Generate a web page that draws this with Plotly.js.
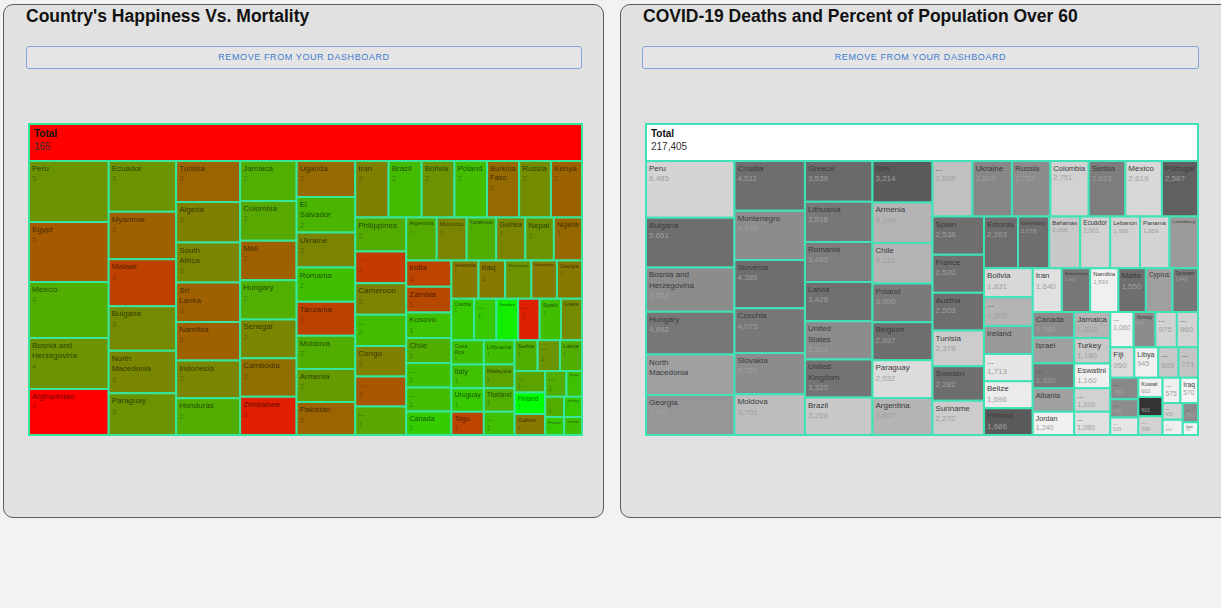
<!DOCTYPE html>
<html>
<head>
<meta charset="utf-8">
<script src="https://cdn.plot.ly/plotly-3.0.1.min.js"></script>
<style>
  html, body { margin:0; padding:0; width:1221px; height:608px; overflow:hidden; background:#f2f2f2;
    font-family:"Liberation Sans", Arial, sans-serif; }
  .card { position:absolute; top:4px; height:512px; background:#e1e1e1; border:1px solid #5c5c5c; border-radius:10px; }
  .title { position:absolute; top:8px; font-weight:bold; font-size:17.5px; line-height:17px; color:#111; white-space:nowrap; }
  .btn { position:absolute; top:46px; height:23px; box-sizing:border-box; border:1px solid #7ea6da; border-radius:3px;
    background:#e5e5e5; color:#3d7bd0; font-size:9px; letter-spacing:0.6px; text-align:center; line-height:21px; }
  #plot { position:absolute; left:0; top:0; width:1221px; height:608px; }
</style>
</head>
<body>
<div class="card" style="left:3px;width:599px;"></div>
<div class="card" style="left:620px;width:620px;"></div>
<div class="title" style="left:26px;">Country's Happiness Vs. Mortality</div>
<div class="title" style="left:643px;">COVID-19 Deaths and Percent of Population Over 60</div>
<div class="btn" style="left:26px;width:556px;">REMOVE FROM YOUR DASHBOARD</div>
<div class="btn" style="left:642px;width:557px;">REMOVE FROM YOUR DASHBOARD</div>
<div id="plot"></div>
<script>
// ---------- Chart 1: Country's Happiness Vs. Mortality ----------
const happinessTotal = 165;
const countries1 = ["Peru","Egypt","Mexico","Bosnia and Herzegovina","Afghanistan",
  "Ecuador","Myanmar","Malawi","Bulgaria","North Macedonia","Paraguay",
  "Tunisia","Algeria","South Africa","Sri Lanka","Namibia","Indonesia","Honduras",
  "Jamaica","Colombia","Mali","Hungary","Senegal","Cambodia","Zimbabwe",
  "Uganda","El Salvador","Ukraine","Romania","Tanzania","Moldova","Armenia","Pakistan",
  "Iran","Brazil","Bolivia","Poland","Burkina Faso","Russia","Kenya","Philippines",
  "...","Cameroon","...","Congo","...","...",
  "Argentina","Morocco","Kazakhstan","Guinea","Nepal","Nigeria","India","Zambia",
  "Kosovo","Chile","...","...","Canada",
  "Venezuela","Iraq","Montenegro","Mozambique","Georgia","Czechia","...",
  "Sweden","...","Spain","Greece",
  "Costa Rica","Italy","Uruguay","Togo","Lithuania","Malaysia","Thailand",
  "...","Serbia","...","Latvia","...","Finland","Gabon",
  "...","Estonia","...","Germany","France","Vietnam"];
const mortality1 = [4.84,4.76,4.45,4.05,3.65,
  3.4,3.2,3.15,3.0,2.85,2.8,
  2.62,2.58,2.55,2.52,2.45,2.4,2.35,
  2.25,2.24,2.22,2.2,2.18,2.17,2.15,
  2.1,2.08,2.04,2.0,1.98,1.95,1.93,1.92,
  1.88,1.86,1.85,1.83,1.81,1.79,1.75,1.72,
  1.62,1.6,1.58,1.55,1.52,1.45,
  1.3,1.28,1.26,1.24,1.22,1.2,1.18,1.16,
  1.15,1.12,1.1,1.08,1.06,
  1.04,1.02,1.0,0.98,0.96,0.94,0.92,
  0.9,0.89,0.88,0.87,
  0.78,0.77,0.76,0.75,0.74,0.73,0.72,
  0.71,0.7,0.68,0.67,0.66,0.65,0.64,
  0.55,0.4,0.38,0.36,0.34,0.32];
const happiness1 = [5.58,4.37,6.12,5.58,2.5,
  5.58,4.49,3.85,5.37,5.28,5.53,
  4.58,5.15,5.26,4.49,4.49,5.26,6.1,
  6.14,6.0,4.49,6.14,5.26,4.79,3.12,
  4.7,6.24,5.24,6.47,3.87,6.12,5.7,4.58,
  5.15,6.41,5.58,6.43,4.7,5.41,4.54,6.05,
  3.7,5.2,6.41,5.15,4.3,5.93,
  6.05,5.24,6.12,5.24,5.53,4.66,3.9,4.0,
  6.49,6.12,6.47,6.41,6.74,
  5.0,5.0,5.53,5.0,5.0,6.66,6.66,
  7.45,3.16,6.47,5.37,
  6.47,6.49,6.66,3.9,6.47,5.89,6.14,
  6.49,6.12,5.58,6.12,5.89,7.8,5.0,
  6.12,6.49,6.12,6.66,6.66,6.47];
const happinessRootScore = 2.4;

// ---------- Chart 2: COVID-19 Deaths and Percent of Population Over 60 ----------
const covidTotal = 217405;
const countries2 = ["Peru","Bulgaria","Bosnia and Herzegovina","Hungary","North Macedonia","Georgia",
  "Croatia","Montenegro","Slovenia","Czechia","Slovakia","Moldova",
  "Greece","Lithuania","Romania","Latvia","United States","United Kingdom","Brazil",
  "Italy","Armenia","Chile","Poland","Belgium","Paraguay","Argentina",
  "...","Ukraine","Russia","Colombia","Serbia","Mexico","Portugal","Spain",
  "France","Austria","Tunisia","Sweden","Suriname","Estonia",
  "Germany","Bahamas","Ecuador","Lebanon","Panama","Luxembourg","Bolivia",
  "...","Ireland","...","Belize","Finland","Iran",
  "Switzerland","Namibia","Malta","Cyprus","Denmark","Canada",
  "Israel","...","Albania","Jordan","Jamaica","Turkey","Eswatini",
  "...","...","...",
  "Norway","...","...","Fiji","Libya","...",
  "...","...",
  "...","...","Kuwait","Japan","...","...",
  "Iraq","...","...","...","Qatar"];
const deaths2 = [6485,5651,5052,4892,4620,4556,
  4511,4478,4389,4075,3751,3701,
  3539,3516,3483,3429,3323,3320,3258,
  3214,3146,3131,3000,2937,2932,2867,
  2865,2824,2753,2751,2623,2619,2587,2538,
  2520,2503,2378,2282,2272,2263,
  2078,2059,2001,1986,1956,1902,1831,
  1805,1762,1713,1696,1686,1640,
  1601,1593,1550,1500,1440,1380,
  1360,1330,1260,1240,1220,1180,1160,
  1100,1080,1060,
  990,975,960,950,945,805,
  771,769,
  666,629,602,601,586,575,
  570,435,400,380,250];
const over60pct2 = [11.1,25.7,21.4,24.4,18.6,20,
  25.7,21.4,25.7,24.3,21.4,14.4,
  26.3,24.3,23.6,25.4,21.4,25,12.9,
  28.6,15.7,15.7,24,25.7,10,15.7,
  14,22.1,21.4,11.4,23.6,10.6,27.7,25.7,
  25.4,25.7,12.3,25.7,12.3,25.7,
  25.7,12.9,11.4,11.4,11.1,19.4,10.6,
  15.7,19.6,8.6,7.7,28.6,9.4,
  24.4,7.1,25.7,18.6,24.3,21.4,
  18.6,24.3,18.6,7.1,15.7,12.9,7.1,
  11.4,9.4,7.1,
  21.4,11.4,11.4,10,7.1,13,
  13.5,22,
  21.4,8.6,7.1,34.1,11.4,7.1,
  6.4,11.4,7.1,21.4,6.4];
const over60RootPct = 5;

// ---------- helpers (styling only) ----------
function wrapName(n) {
  const i = n.lastIndexOf(' ');
  return i > 0 ? n.slice(0, i) + '<br>' + n.slice(i + 1) : n;
}
const W = 1221, H = 608;
function dom(x0, x1, y0, y1) { return { x: [x0 / W, x1 / W], y: [1 - y1 / H, 1 - y0 / H] }; }

function buildTreemap(opts) {
  const ids = [opts.rootId].concat(opts.names.map((_, i) => opts.rootId + '_' + i));
  const labels = [' '].concat(opts.names.map(wrapName));
  const parents = [''].concat(opts.names.map(() => opts.rootId));
  const values = [0].concat(opts.values);
  const colors = [opts.rootColorValue].concat(opts.colorValues);
  const templ = ['%{label}'].concat(opts.names.map(() =>
    '%{label}<br><span style="color:' + opts.valueColor + '">%{value:' + opts.fmt + '}</span>'));
  return {
    type: 'treemap', ids, labels, parents, values,
    branchvalues: 'remainder', sort: true,
    texttemplate: templ, textposition: 'top left',
    textfont: { family: 'Liberation Sans, Arial, sans-serif', color: opts.labelColor, size: 8 },
    marker: { colors, colorscale: opts.colorscale, cmin: opts.cmin, cmax: opts.cmax, showscale: false,
      line: { color: opts.lineColor, width: 2 }, pad: { t: 37, l: 0, r: 0, b: 0 } },
    tiling: { pad: 0, squarifyratio: 1.618 },
    pathbar: { visible: false },
    hoverinfo: 'label+value',
    domain: opts.domain
  };
}

const t1 = buildTreemap({
  rootId: 'happy', names: countries1, values: mortality1, colorValues: happiness1,
  rootColorValue: happinessRootScore,
  colorscale: [[0, '#ff0000'], [1, '#00ff00']], cmin: 2.5, cmax: 7.8,
  lineColor: '#36e69c', labelColor: 'rgba(0,0,0,0.6)', valueColor: 'rgba(0,0,0,0.5)',
  fmt: '.0f', domain: dom(29, 582, 124, 435)
});
const t2 = buildTreemap({
  rootId: 'covid', names: countries2, values: deaths2, colorValues: over60pct2,
  rootColorValue: over60RootPct,
  colorscale: [[0, '#ffffff'], [1, '#2d2d2d']], cmin: 5, cmax: 35,
  lineColor: '#40e3b8', labelColor: '#3a3a3a', valueColor: '#a0a0a0',
  fmt: ',', domain: dom(646, 1198, 124, 435)
});

function headerNote(xpx, total) {
  return {
    xref: 'paper', yref: 'paper', x: xpx / W, y: 1 - 126 / H, xanchor: 'left', yanchor: 'top',
    align: 'left', showarrow: false,
    text: '<b>Total</b><br><span style="color:#333">' + total.toLocaleString('en-US') + '</span>',
    font: { family: 'Liberation Sans, Arial, sans-serif', size: 10, color: '#111' }
  };
}

Plotly.newPlot('plot', [t1, t2], {
  width: W, height: H, margin: { l: 0, r: 0, t: 0, b: 0 },
  paper_bgcolor: 'rgba(0,0,0,0)', plot_bgcolor: 'rgba(0,0,0,0)', showlegend: false,
  font: { family: 'Liberation Sans, Arial, sans-serif' },
  annotations: [headerNote(32, happinessTotal), headerNote(649, covidTotal)]
}, { displayModeBar: false, staticPlot: true });
</script>
</body>
</html>
